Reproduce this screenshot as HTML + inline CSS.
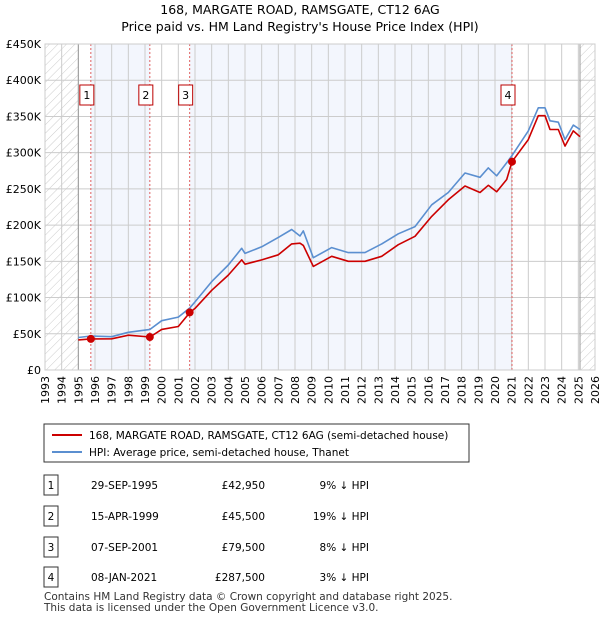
<!DOCTYPE html>
<html><head><meta charset="utf-8"><style>
body{margin:0;background:#fff;font-family:"Liberation Sans","DejaVu Sans",sans-serif;}
svg text{font-family:"DejaVu Sans","Liberation Sans",sans-serif;}
</style></head><body>
<svg id="c" width="600" height="620" xmlns="http://www.w3.org/2000/svg">
<defs><pattern id="hatch" width="6" height="6" patternUnits="userSpaceOnUse" patternTransform="rotate(45)"><line x1="0" y1="0" x2="0" y2="6" stroke="#ccc" stroke-width="1"/></pattern></defs>
<text x="300" y="14" text-anchor="middle" font-size="12.5">168, MARGATE ROAD, RAMSGATE, CT12 6AG</text>
<text x="300" y="31" text-anchor="middle" font-size="12.5">Price paid vs. HM Land Registry's House Price Index (HPI)</text>
<g id="plot"></g>
<g>
<rect x="44" y="424" width="425" height="38" fill="#fff" stroke="#333" stroke-width="1"/>
<line x1="52" y1="435" x2="82" y2="435" stroke="#cc0000" stroke-width="2"/>
<text x="89" y="439" font-size="10.5">168, MARGATE ROAD, RAMSGATE, CT12 6AG (semi-detached house)</text>
<line x1="52" y1="452" x2="82" y2="452" stroke="#5b8fd0" stroke-width="2"/>
<text x="89" y="456" font-size="10.5">HPI: Average price, semi-detached house, Thanet</text>
</g>
<g id="tbl" font-size="10.5"></g>
<text x="44" y="600" font-size="10.5" fill="#333">Contains HM Land Registry data © Crown copyright and database right 2025.</text>
<text x="44" y="611" font-size="10.5" fill="#333">This data is licensed under the Open Government Licence v3.0.</text>
</svg>
<script>
const hpiYears=[1995.0,1995.75,1997.0,1998.0,1999.3,2000.0,2001.0,2001.7,2002.0,2003.0,2004.0,2004.8,2005.0,2006.0,2007.0,2007.8,2008.3,2008.5,2009.1,2010.2,2011.2,2012.2,2013.2,2014.2,2015.2,2016.2,2017.2,2018.2,2019.1,2019.6,2020.1,2020.7,2021.02,2022.0,2022.6,2023.0,2023.3,2023.8,2024.2,2024.7,2025.1];
const hpiValues=[44800,47000,46000,52000,56000,68000,73000,86000,94000,122000,145000,168000,161000,170000,183000,194000,185000,192000,155000,169000,162000,162000,174000,188000,198000,228000,245000,272000,266000,279000,268000,286000,296000,330000,362000,362000,344000,342000,318000,338000,332000];
const priceYears=[1995.0,1995.75,1997.0,1998.0,1999.3,2000.0,2001.0,2001.7,2002.0,2003.0,2004.0,2004.8,2005.0,2006.0,2007.0,2007.8,2008.3,2008.5,2009.1,2010.2,2011.2,2012.2,2013.2,2014.2,2015.2,2016.2,2017.2,2018.2,2019.1,2019.6,2020.1,2020.7,2021.02,2022.0,2022.6,2023.0,2023.3,2023.8,2024.2,2024.7,2025.1];
const priceValues=[41500,42950,43000,48000,45500,56000,60000,79500,85000,110000,131000,152000,146000,152000,159000,174000,175000,172000,143000,157000,150000,150000,157000,173000,184600,212000,235000,254000,245000,255000,246000,263000,287500,318000,351000,351000,332000,332000,309000,330000,322000];
const saleYears=[1995.75,1999.29,2001.68,2021.02];
const saleValues=[42950,45500,79500,287500];
const saleLabels=["1","2","3","4"];
const saleDates=["29-SEP-1995","15-APR-1999","07-SEP-2001","08-JAN-2021"];
const salePrices=["£42,950","£45,500","£79,500","£287,500"];
const saleDiffs=["9% ↓ HPI","19% ↓ HPI","8% ↓ HPI","3% ↓ HPI"];
const yTicks=[0,50000,100000,150000,200000,250000,300000,350000,400000,450000];
const yTickLabels=["£0","£50K","£100K","£150K","£200K","£250K","£300K","£350K","£400K","£450K"];
const xYears=[1993,1994,1995,1996,1997,1998,1999,2000,2001,2002,2003,2004,2005,2006,2007,2008,2009,2010,2011,2012,2013,2014,2015,2016,2017,2018,2019,2020,2021,2022,2023,2024,2025,2026];

const NS="http://www.w3.org/2000/svg";
const X0=45,X1=595,Y0=370,Y1=44;
const xs=y=>X0+(y-1993)/(2026-1993)*(X1-X0);
const ys=v=>Y0-v/450000*(Y0-Y1);
const plot=document.getElementById('plot');
function mk(t,a,p){const e=document.createElementNS(NS,t);for(const k in a)e.setAttribute(k,a[k]);(p||plot).appendChild(e);return e;}

let e;
e=mk('rect',{x:X0,y:Y1,width:X1-X0,height:Y0-Y1,fill:'#fff'});


for(let i=0;i<saleYears.length;i+=2){
 const a=saleYears[i],b=i+1<saleYears.length?saleYears[i+1]:2025.1;
 e=mk('rect',{x:xs(a),y:Y1,width:xs(b)-xs(a),height:Y0-Y1,fill:'#f3f6fd'});
 
 
}
e=mk('rect',{x:X0,y:Y1,width:xs(1995)-X0,height:Y0-Y1,fill:'url(#hatch)'});


e=mk('rect',{x:xs(2025.1),y:Y1,width:X1-xs(2025.1),height:Y0-Y1,fill:'url(#hatch)'});


xYears.forEach(y=>{
 e=mk('line',{x1:xs(y),x2:xs(y),y1:Y1,y2:Y0,stroke:'#cccccc','stroke-width':1});
 
 
 const tx=xs(y)+4;
 e=mk('text',{x:tx,y:376,'text-anchor':'end','font-size':11,transform:'rotate(-90 '+tx+' 376)'});
 e.textContent=y;
 
 
});
yTicks.forEach((v,i)=>{
 e=mk('line',{x1:X0,x2:X1,y1:ys(v),y2:ys(v),stroke:'#cccccc','stroke-width':1});
 
 
 e=mk('text',{x:41,y:ys(v)+4,'text-anchor':'end','font-size':11});
 e.textContent=yTickLabels[i];
 
 
});
e=mk('line',{x1:xs(1995),x2:xs(1995),y1:Y1,y2:Y0,stroke:'#999','stroke-width':1});
e=mk('line',{x1:xs(2025.1),x2:xs(2025.1),y1:Y1,y2:Y0,stroke:'#999','stroke-width':1});
saleYears.forEach((y,i)=>{
 e=mk('line',{x1:xs(y),x2:xs(y),y1:Y1,y2:Y0,stroke:'#e06060','stroke-width':1,'stroke-dasharray':'2,2'});
 
 
});
function line(xsArr,vs,col,name){
 const d=xsArr.map((y,i)=>(i?'L':'M')+xs(y).toFixed(1)+','+ys(vs[i]).toFixed(1)).join('');
 const p=mk('path',{d:d,fill:'none',stroke:col,'stroke-width':1.6,'stroke-linejoin':'round'});
 
 
}
line(hpiYears,hpiValues,'#5b8fd0','hpi-line');
line(priceYears,priceValues,'#cc0000','price-line');
saleYears.forEach((y,i)=>{
 e=mk('circle',{cx:xs(y),cy:ys(saleValues[i]),r:4,fill:'#cc0000'});
 
 
 const g=mk('g',{});
 
 
 const bx=xs(y)-4;
 mk('rect',{x:bx-7,y:85,width:14,height:20,fill:'#fff',stroke:'#b00','stroke-width':1},g);
 const t=mk('text',{x:bx,y:99,'text-anchor':'middle','font-size':11},g);
 t.textContent=saleLabels[i];
});
mk('rect',{x:X0,y:Y1,width:X1-X0,height:Y0-Y1,fill:'none',stroke:'#ccc','stroke-width':1});

const tbl=document.getElementById('tbl');
const rowY=[485,516,547,577];
saleLabels.forEach((l,i)=>{
 const g=mk('g',{},tbl);
 
 
 mk('rect',{x:44,y:rowY[i]-10,width:14,height:20,fill:'#fff',stroke:'#333','stroke-width':1},g);
 let t=mk('text',{x:51,y:rowY[i]+4,'text-anchor':'middle'},g);t.textContent=l;
 t=mk('text',{x:91,y:rowY[i]+4},g);t.textContent=saleDates[i];
 t=mk('text',{x:265,y:rowY[i]+4,'text-anchor':'end'},g);t.textContent=salePrices[i];
 t=mk('text',{x:369,y:rowY[i]+4,'text-anchor':'end'},g);t.textContent=saleDiffs[i];
});
</script>
</body></html>
